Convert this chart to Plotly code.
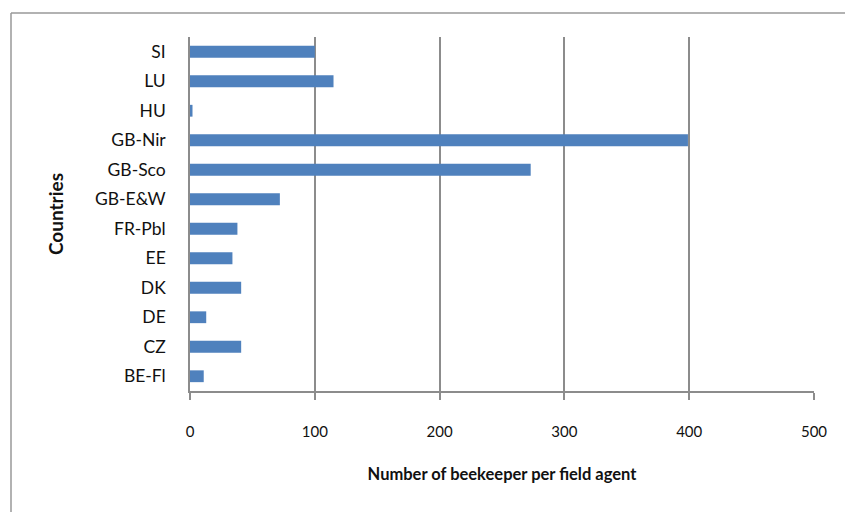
import plotly.graph_objects as go

countries = ["BE-Fl", "CZ", "DE", "DK", "EE", "FR-Pbl", "GB-E&W", "GB-Sco", "GB-Nir", "HU", "LU", "SI"]
beekeepers_per_agent = [11, 41, 13, 41, 34, 38, 72, 273, 399, 2, 115, 100]
x_ticks = [0, 100, 200, 300, 400, 500]

L, R, T, B = 190, 31, 37, 121
W, H = 845, 512
pw, ph = W - L - R, H - T - B

fig = go.Figure(go.Bar(
    x=beekeepers_per_agent, y=countries, orientation="h",
    marker=dict(color="#4F81BD", line=dict(color="#4F81BD", width=0)),
    width=0.4,
))

font_family = "Lato, 'Open Sans', sans-serif"
fig.update_layout(
    width=W, height=H,
    margin=dict(l=L, r=R, t=T, b=B, autoexpand=False),
    paper_bgcolor="white", plot_bgcolor="white",
    showlegend=False,
    font=dict(family=font_family, size=14, color="#111111"),
    bargap=0.6,
)
fig.update_xaxes(
    range=[0, 500], tickvals=x_ticks, ticktext=[str(v) for v in x_ticks],
    showgrid=True, gridcolor="#8c8c8c", gridwidth=1.5,
    showline=True, linecolor="#8c8c8c", linewidth=1.5,
    ticks="outside", ticklen=7, tickcolor="#8c8c8c", tickwidth=1.5,
    ticklabelstandoff=19, zeroline=False,
    tickfont=dict(size=15),
    title=dict(text="<b>Number of beekeeper per field agent</b>", font=dict(size=16.5), standoff=30),
    automargin=False,
)
fig.update_yaxes(
    type="category", categoryorder="array", categoryarray=countries,
    showgrid=False, showline=True, linecolor="#8c8c8c", linewidth=1.5,
    ticks="", ticklabelstandoff=19, tickfont=dict(size=17.5),
    title=dict(text="<b>Countries</b>", font=dict(size=19), standoff=26),
    automargin=False,
)

# outer chart border (top and left visible, others cropped)
x_left = (11 - L) / pw
y_top = (H - B - 13) / ph
x_right = (W + 5 - L) / pw
y_bottom = -(B + 5) / ph
fig.add_shape(type="line", xref="paper", yref="paper", x0=x_left, x1=x_right, y0=y_top, y1=y_top,
              line=dict(color="#999999", width=1.5))
fig.add_shape(type="line", xref="paper", yref="paper", x0=x_left, x1=x_left, y0=y_top, y1=y_bottom,
              line=dict(color="#999999", width=1.5))
# zero tick on the category axis extending below the value axis
fig.add_shape(type="line", xref="x", yref="paper", x0=0, x1=0, y0=0, y1=-7 / ph,
              line=dict(color="#8c8c8c", width=1.5))

fig.write_html("out.html", config={"displayModeBar": False},
               post_script="document.body.style.margin='0px';")
